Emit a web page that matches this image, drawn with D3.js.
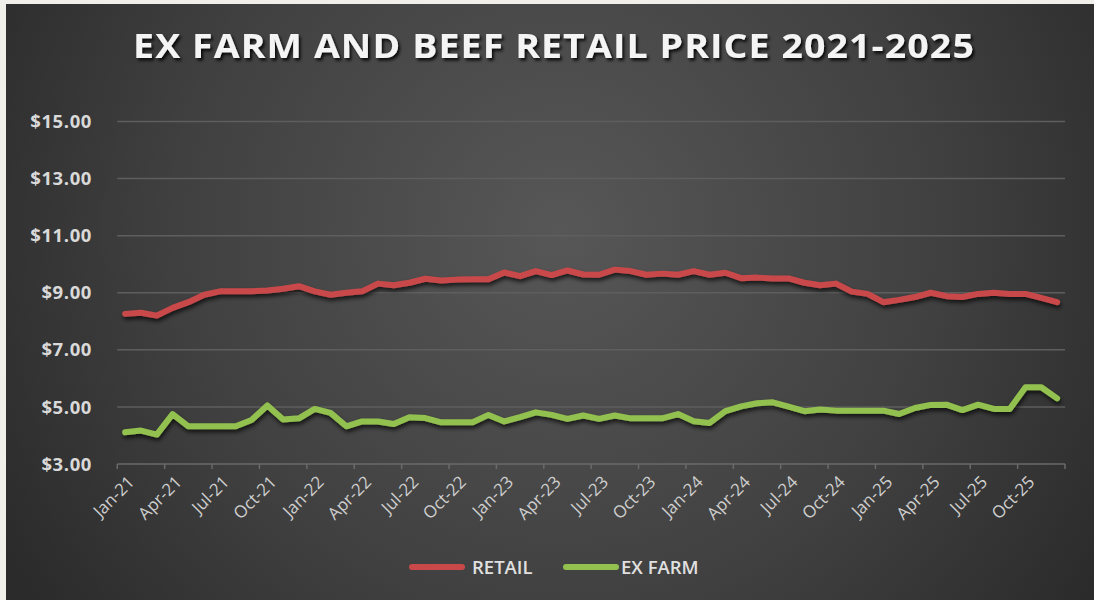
<!DOCTYPE html>
<html><head><meta charset="utf-8">
<script src="https://cdn.jsdelivr.net/npm/d3@7"></script>
<style>
html,body{margin:0;padding:0;background:#f0efea;}
svg{display:block;}
</style></head>
<body>
<svg id="chart" width="1094" height="600"></svg>
<script>
const title = "EX FARM AND BEEF RETAIL PRICE 2021-2025";
const monthNames = ["Jan","Feb","Mar","Apr","May","Jun","Jul","Aug","Sep","Oct","Nov","Dec"];
const years = ["21","22","23","24","25"];
const categories = years.flatMap(y => monthNames.map(m => m + "-" + y));
const retail = [
 8.26,8.30,8.20,8.47,8.67,8.93,9.05,9.05,9.05,9.08,9.14,9.23,
 9.05,8.93,9.00,9.05,9.32,9.26,9.35,9.49,9.43,9.46,9.47,9.47,
 9.71,9.58,9.76,9.62,9.78,9.64,9.63,9.81,9.76,9.63,9.67,9.63,
 9.76,9.63,9.70,9.51,9.53,9.50,9.50,9.35,9.26,9.32,9.04,8.96,
 8.67,8.75,8.85,9.00,8.88,8.85,8.96,9.00,8.96,8.96,8.82,8.67
];
const exFarm = [
 4.11,4.17,4.03,4.75,4.32,4.32,4.32,4.32,4.54,5.05,4.56,4.60,
 4.93,4.79,4.32,4.49,4.49,4.40,4.64,4.61,4.46,4.46,4.46,4.72,
 4.49,4.64,4.81,4.72,4.58,4.70,4.58,4.70,4.60,4.60,4.60,4.75,
 4.50,4.44,4.85,5.02,5.13,5.16,5.01,4.85,4.91,4.87,4.87,4.87,
 4.87,4.75,4.96,5.07,5.08,4.89,5.08,4.93,4.93,5.69,5.69,5.30
];
const yTicks = [3,5,7,9,11,13,15];
const seriesNames = ["RETAIL","EX FARM"];
const seriesColors = ["#c9494b","#93c14f"];
const seriesData = [retail, exFarm];

const svg = d3.select("#chart");
const defs = svg.append("defs");
const grad = defs.append("radialGradient").attr("id","bg")
  .attr("gradientUnits","userSpaceOnUse").attr("cx",560).attr("cy",230).attr("r",640);
grad.append("stop").attr("offset","0%").attr("stop-color","#575757");
grad.append("stop").attr("offset","60%").attr("stop-color","#404040");
grad.append("stop").attr("offset","100%").attr("stop-color","#2b2b2b");
const tsh = defs.append("filter").attr("id","tshadow").attr("x","-10%").attr("y","-30%").attr("width","120%").attr("height","170%");
tsh.append("feDropShadow").attr("dx",2).attr("dy",2.5).attr("stdDeviation",1.8).attr("flood-color","#000").attr("flood-opacity",0.85);
const lsh = defs.append("filter").attr("id","lshadow").attr("x","-5%").attr("y","-50%").attr("width","110%").attr("height","200%");
lsh.append("feDropShadow").attr("dx",1).attr("dy",3).attr("stdDeviation",2).attr("flood-color","#000").attr("flood-opacity",0.7);

svg.append("rect").attr("x",6).attr("y",4).attr("width",1088).attr("height",596).attr("fill","url(#bg)");

const x = d3.scaleBand().domain(categories).range([117.3,1065]).padding(0);
const y = d3.scaleLinear().domain([3,15]).range([464,121.5]);
const cx = d => x(d) + x.bandwidth()/2;

// gridlines
svg.append("g").selectAll("line").data(yTicks.filter(t => t !== 3)).join("line")
  .attr("x1",117.3).attr("x2",1065).attr("y1",d=>y(d)).attr("y2",d=>y(d))
  .attr("stroke","#5e5e5e").attr("stroke-width",1.5);

// y labels
svg.append("g").selectAll("text").data(yTicks).join("text")
  .attr("x",92).attr("y",d=>y(d)).attr("dy","0.36em")
  .attr("text-anchor","end")
  .attr("font-family","'Open Sans', sans-serif").attr("font-weight",700)
  .attr("font-size",18.5).attr("letter-spacing",0.6).attr("fill","#d9d9d9")
  .text(d => "$" + d.toFixed(2));

// x axis
const xAxisG = svg.append("g");
xAxisG.append("line").attr("x1",117.3).attr("x2",1065).attr("y1",y(3)).attr("y2",y(3))
  .attr("stroke","#6a6a6a").attr("stroke-width",1.5);
const tickCats = categories.filter((c,i) => i % 3 === 0);
const tickPos = tickCats.map(c => x(c)).concat([x.range()[1]]);
xAxisG.selectAll("line.tick").data(tickPos).join("line").attr("class","tick")
  .attr("x1",d=>d).attr("x2",d=>d).attr("y1",y(3)).attr("y2",y(3)+5)
  .attr("stroke","#6a6a6a").attr("stroke-width",1.5);
xAxisG.selectAll("text").data(tickCats).join("text")
  .attr("transform", d => `translate(${cx(d)+6},${y(3)+15}) rotate(-45)`)
  .attr("text-anchor","end")
  .attr("font-family","'Open Sans', sans-serif").attr("font-size",17)
  .attr("fill","#cfcfcf").attr("dy","0.35em")
  .text(d => d);

// lines
const line = d3.line().x((v,i) => cx(categories[i])).y(v => y(v)).curve(d3.curveLinear);
svg.append("g").selectAll("path").data(seriesData).join("path")
  .attr("d", d => line(d)).attr("fill","none")
  .attr("stroke",(d,i)=>seriesColors[i]).attr("stroke-width",6)
  .attr("stroke-linejoin","round").attr("stroke-linecap","round")
  .attr("filter","url(#lshadow)");

// title (condensed to target width)
const tg = svg.append("g").attr("filter","url(#tshadow)");
const t = tg.append("text").attr("x",0).attr("y",0).attr("text-anchor","middle")
  .attr("font-family","'Open Sans', sans-serif").attr("font-weight",700)
  .attr("font-size",34).attr("letter-spacing",1).attr("fill","#f4f4f4")
  .text(title);
const tl = t.node().getComputedTextLength();
t.attr("transform", `translate(554,58) scale(${(842/tl).toFixed(3)},1)`);

// legend
const legendX = [409, 563];
const leg = svg.append("g").selectAll("g").data(seriesNames).join("g")
  .attr("transform",(d,i)=>`translate(${legendX[i]},567)`);
leg.append("line").attr("x1",3).attr("x2",53).attr("y1",0).attr("y2",0)
  .attr("stroke",(d,i)=>seriesColors[i]).attr("stroke-width",6).attr("stroke-linecap","round");
leg.append("text").attr("x",(d,i)=> i===0 ? 63 : 58).attr("y",0).attr("dy","0.36em")
  .attr("font-family","'Open Sans', sans-serif").attr("font-weight",600).attr("font-size",18.5)
  .attr("fill","#e0e0e0").text(d=>d);
</script>
</body></html>
